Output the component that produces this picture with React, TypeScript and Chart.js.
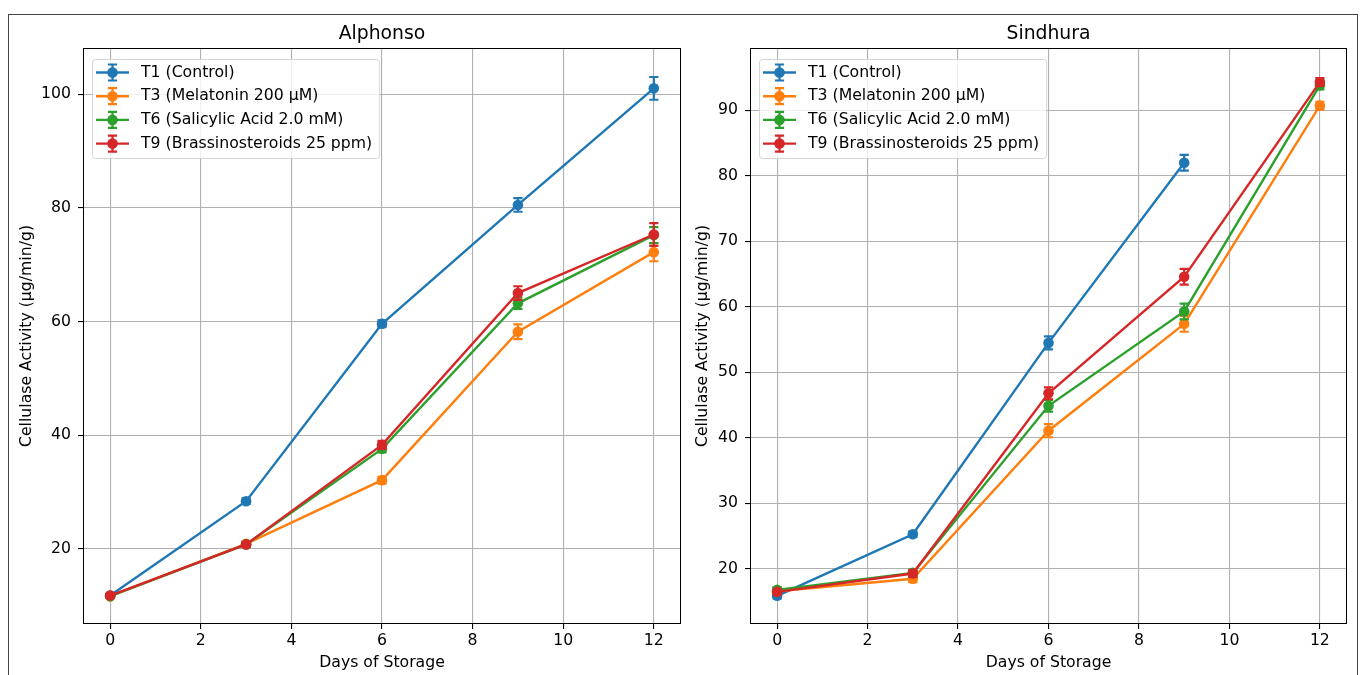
import React, { useEffect, useRef } from 'react';
import { Chart, registerables } from 'chart.js';

Chart.register(...registerables);

const FONT = "'DejaVu Sans', sans-serif";
const TEXT_SIZE = 15.7;
const TITLE_SIZE = 18.8;

const DAYS = [0, 3, 6, 9, 12];
const SERIES_LABELS = [
  'T1 (Control)',
  'T3 (Melatonin 200 μM)',
  'T6 (Salicylic Acid 2.0 mM)',
  'T9 (Brassinosteroids 25 ppm)',
];
const COLORS = ['#1f77b4', '#ff7f0e', '#2ca02c', '#d62728'];

// Alphonso
const ALPHONSO_T1 = [11.8, 28.4, 59.6, 80.5, 101.0];
const ALPHONSO_T3 = [11.7, 20.9, 32.1, 58.2, 72.2];
const ALPHONSO_T6 = [11.7, 20.8, 37.6, 63.2, 75.2];
const ALPHONSO_T9 = [11.8, 20.8, 38.3, 65.0, 75.3];
const ALPHONSO_T1_ERR = [0.3, 0.5, 0.6, 1.2, 2.0];
const ALPHONSO_T3_ERR = [0.3, 0.4, 0.6, 1.3, 1.6];
const ALPHONSO_T6_ERR = [0.3, 0.4, 0.6, 1.0, 1.4];
const ALPHONSO_T9_ERR = [0.3, 0.4, 0.7, 1.2, 2.0];

// Sindhura
const SINDHURA_T1 = [15.9, 25.3, 54.5, 82.0, null];
const SINDHURA_T3 = [16.6, 18.5, 41.1, 57.4, 90.7];
const SINDHURA_T6 = [16.8, 19.4, 44.9, 59.3, 93.8];
const SINDHURA_T9 = [16.5, 19.3, 46.8, 64.6, 94.3];
const SINDHURA_T1_ERR = [0.4, 0.4, 1.0, 1.2, 0];
const SINDHURA_T3_ERR = [0.4, 0.5, 1.0, 1.2, 0.6];
const SINDHURA_T6_ERR = [0.4, 0.5, 0.9, 1.2, 0.6];
const SINDHURA_T9_ERR = [0.4, 0.5, 0.9, 1.2, 0.6];

const X_TICKS = [0, 2, 4, 6, 8, 10, 12];
const ALPHONSO_Y_TICKS = [20, 40, 60, 80, 100];
const SINDHURA_Y_TICKS = [20, 30, 40, 50, 60, 70, 80, 90];

const X_LABEL = 'Days of Storage';
const Y_LABEL = 'Cellulase Activity (µg/min/g)';

const LINE_W = 2.4;
const MARKER_R = 5.3;
const CAP = 4.6;

type PanelProps = {
  left: number;
  width: number;
  title: string;
  series: (number | null)[][];
  errors: number[][];
  yMin: number;
  yMax: number;
  yTicks: number[];
  yWidth: number;
  yTitlePad: number;
  padRight: number;
};

const errorBarPlugin = {
  id: 'errorBars',
  afterDatasetDraw(chart: any, args: any) {
    const ds: any = chart.data.datasets[args.index];
    const errs: number[] = ds.errors || [];
    const ys = chart.scales.y;
    const ctx = chart.ctx;
    ctx.save();
    ctx.strokeStyle = ds.borderColor;
    ctx.lineWidth = 2.2;
    args.meta.data.forEach((pt: any, j: number) => {
      const d = ds.data[j];
      if (!d || d.y == null || !errs[j]) return;
      const x = pt.x;
      const y1 = ys.getPixelForValue(d.y - errs[j]);
      const y2 = ys.getPixelForValue(d.y + errs[j]);
      ctx.beginPath();
      ctx.moveTo(x, y1);
      ctx.lineTo(x, y2);
      ctx.moveTo(x - CAP, y1);
      ctx.lineTo(x + CAP, y1);
      ctx.moveTo(x - CAP, y2);
      ctx.lineTo(x + CAP, y2);
      ctx.stroke();
    });
    ctx.restore();
  },
  afterDatasetsDraw(chart: any) {
    const { ctx, chartArea } = chart;
    ctx.save();
    // axes frame
    ctx.strokeStyle = '#000';
    ctx.lineWidth = 1;
    ctx.strokeRect(
      Math.round(chartArea.left) + 0.5,
      Math.round(chartArea.top) + 0.5,
      Math.round(chartArea.right - chartArea.left) - 1,
      Math.round(chartArea.bottom - chartArea.top) - 1
    );
    // title centred over the axes
    ctx.font = `${TITLE_SIZE}px ${FONT}`;
    ctx.fillStyle = '#000';
    ctx.textAlign = 'center';
    ctx.textBaseline = 'middle';
    ctx.fillText(chart.options.panelTitle || '', (chartArea.left + chartArea.right) / 2, 34);
    // legend
    ctx.font = `${TEXT_SIZE}px ${FONT}`;
    const maxW = Math.max(...SERIES_LABELS.map((t) => ctx.measureText(t).width));
    const bx = chartArea.left + 9;
    const by = chartArea.top + 11;
    const bw = 49 + maxW + 7;
    const bh = 99;
    ctx.beginPath();
    ctx.roundRect(bx + 0.5, by + 0.5, bw, bh, 3);
    ctx.fillStyle = 'rgba(255,255,255,0.8)';
    ctx.fill();
    ctx.strokeStyle = 'rgba(204,204,204,0.8)';
    ctx.lineWidth = 1;
    ctx.stroke();
    SERIES_LABELS.forEach((label, i) => {
      const cy = by + 13.5 + i * 23.7;
      const mx = bx + 20.5;
      ctx.strokeStyle = COLORS[i];
      ctx.fillStyle = COLORS[i];
      ctx.lineWidth = LINE_W;
      ctx.beginPath();
      ctx.moveTo(bx + 4, cy);
      ctx.lineTo(bx + 37, cy);
      ctx.stroke();
      ctx.lineWidth = 2.2;
      ctx.beginPath();
      ctx.moveTo(mx, cy - 8);
      ctx.lineTo(mx, cy + 8);
      ctx.moveTo(mx - CAP, cy - 8);
      ctx.lineTo(mx + CAP, cy - 8);
      ctx.moveTo(mx - CAP, cy + 8);
      ctx.lineTo(mx + CAP, cy + 8);
      ctx.stroke();
      ctx.beginPath();
      ctx.arc(mx, cy, MARKER_R, 0, Math.PI * 2);
      ctx.fill();
      ctx.fillStyle = '#000';
      ctx.textBaseline = 'middle';
      ctx.textAlign = 'left';
      ctx.fillText(label, bx + 49, cy);
    });
    ctx.restore();
  },
};

function Panel(p: PanelProps) {
  const ref = useRef<HTMLCanvasElement | null>(null);
  useEffect(() => {
    if (!ref.current) return;
    const tickFont = { family: FONT, size: TEXT_SIZE };
    const grid = {
      color: '#b0b0b0',
      lineWidth: 1.1,
      drawTicks: true,
      tickLength: 5,
      tickColor: '#000',
      tickWidth: 1.1,
    };
    const chart = new Chart(ref.current, {
      type: 'line',
      data: {
        datasets: p.series.map((vals, i) => ({
          label: SERIES_LABELS[i],
          data: DAYS.map((d, j) => ({ x: d, y: vals[j] })),
          errors: p.errors[i],
          borderColor: COLORS[i],
          backgroundColor: COLORS[i],
          borderWidth: LINE_W,
          pointRadius: MARKER_R,
          pointBorderWidth: 0,
          pointHoverRadius: MARKER_R,
          tension: 0,
          order: 4 - i,
          spanGaps: false,
        })) as any,
      },
      options: {
        panelTitle: p.title,
        responsive: false,
        animation: false,
        events: [],
        layout: { padding: { left: 0, right: p.padRight, top: 48, bottom: 0 } },
        plugins: {
          legend: { display: false },
          tooltip: { enabled: false },
          title: { display: false },
        },
        scales: {
          x: {
            type: 'linear',
            min: -0.6,
            max: 12.6,
            afterBuildTicks: (s: any) => {
              s.ticks = X_TICKS.map((v) => ({ value: v }));
            },
            afterFit: (s: any) => {
              s.height = 51;
            },
            ticks: { font: tickFont, color: '#000', padding: 3, maxRotation: 0 },
            grid,
            border: { display: false },
            title: {
              display: true,
              text: X_LABEL,
              color: '#000',
              font: tickFont,
              padding: { top: 0, bottom: 2.6 },
            },
          },
          y: {
            type: 'linear',
            min: p.yMin,
            max: p.yMax,
            afterBuildTicks: (s: any) => {
              s.ticks = p.yTicks.map((v) => ({ value: v }));
            },
            afterFit: (s: any) => {
              s.width = p.yWidth;
            },
            ticks: { font: tickFont, color: '#000', padding: 7 },
            grid,
            border: { display: false },
            title: {
              display: true,
              text: Y_LABEL,
              color: '#000',
              font: tickFont,
              padding: { top: p.yTitlePad, bottom: 0 },
            },
          },
        },
      } as any,
      plugins: [errorBarPlugin],
    });
    return () => chart.destroy();
  }, []);
  return (
    <canvas
      ref={ref}
      width={p.width}
      height={675}
      style={{ position: 'absolute', left: p.left, top: 0, width: p.width, height: 675 }}
    />
  );
}

export default function App() {
  return (
    <div
      style={{
        position: 'absolute',
        left: 0,
        top: 0,
        width: 1364,
        height: 675,
        overflow: 'hidden',
        background: '#fff',
      }}
    >
      <div
        style={{
          position: 'absolute',
          left: 8,
          top: 14,
          width: 1348,
          height: 700,
          border: '1px solid #444',
        }}
      />
      <Panel
        left={0}
        width={700}
        title="Alphonso"
        series={[ALPHONSO_T1, ALPHONSO_T3, ALPHONSO_T6, ALPHONSO_T9]}
        errors={[ALPHONSO_T1_ERR, ALPHONSO_T3_ERR, ALPHONSO_T6_ERR, ALPHONSO_T9_ERR]}
        yMin={6.8}
        yMax={108.1}
        yTicks={ALPHONSO_Y_TICKS}
        yWidth={83}
        yTitlePad={17.6}
        padRight={19}
      />
      <Panel
        left={685}
        width={679}
        title="Sindhura"
        series={[SINDHURA_T1, SINDHURA_T3, SINDHURA_T6, SINDHURA_T9]}
        errors={[SINDHURA_T1_ERR, SINDHURA_T3_ERR, SINDHURA_T6_ERR, SINDHURA_T9_ERR]}
        yMin={11.6}
        yMax={99.5}
        yTicks={SINDHURA_Y_TICKS}
        yWidth={65}
        yTitlePad={8.6}
        padRight={17}
      />
    </div>
  );
}
